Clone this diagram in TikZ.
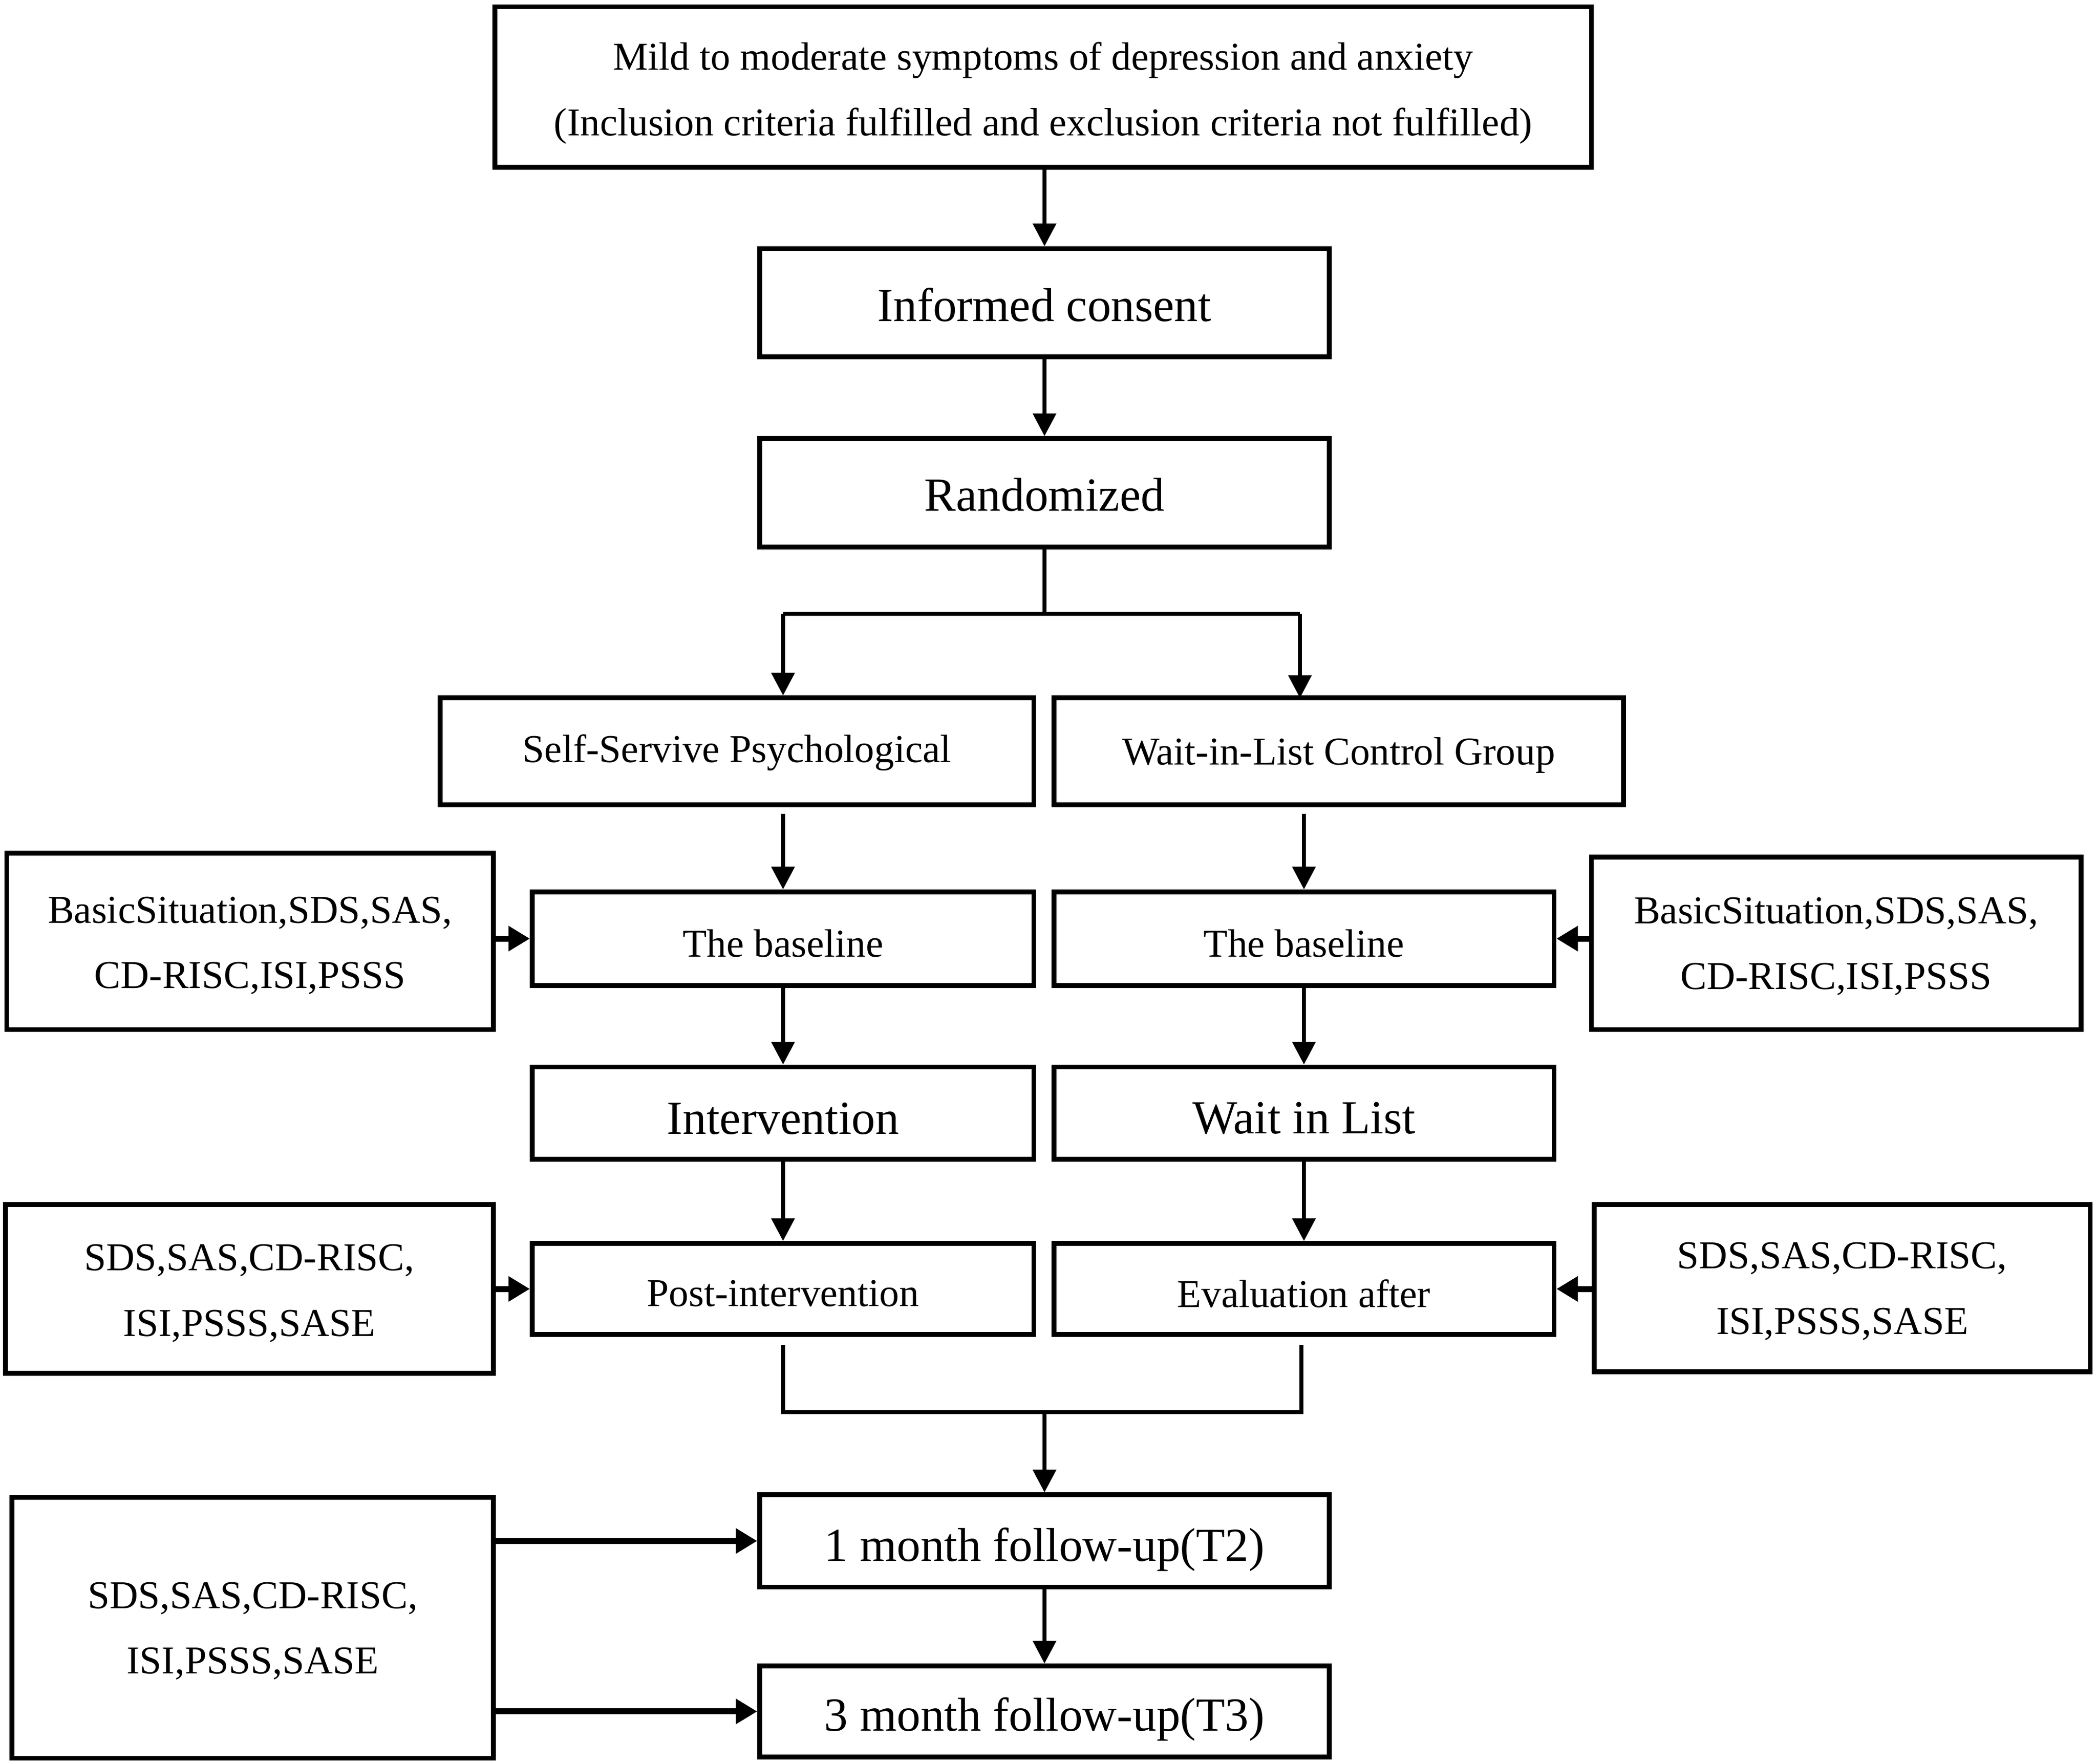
\documentclass[tikz,border=0pt]{standalone}
\usepackage{fontspec}
\setmainfont{Liberation Serif}
\usetikzlibrary{arrows.meta,calc}
\newcommand\dn[2]{\raisebox{-#1pt}[\height][\depth]{#2}}
\newcommand\two[3]{\raisebox{-#1pt}[\height][\depth]{\begin{tabular}{@{}c@{}}#2\\#3\end{tabular}}}
\begin{document}
\begin{tikzpicture}[x=1pt,y=-1pt,
  box/.style={draw,line width=3.6pt,rectangle,inner sep=0pt,align=center,
    font=\fontsize{29.5}{49}\selectfont},
  bigtxt/.style={font=\fontsize{35.5}{42}\selectfont},
  arr/.style={line width=3pt,-{Triangle[length=17pt,width=17pt]}},
  sidearr/.style={line width=4.5pt,-{Triangle[length=16pt,width=18pt]}},
  ln/.style={line width=3pt}]
\useasboundingbox (0,0) rectangle (1568,1319.3);

% main column
\node[box,minimum width=820pt,minimum height=120pt] (top) at (780,65)
  {\two{2}{Mild to moderate symptoms of depression and anxiety}{(Inclusion criteria fulfilled and exclusion criteria not fulfilled)}};
\node[box,bigtxt,minimum width=426pt,minimum height=81pt] (ic) at (781,226.5) {\dn{1.5}{Informed consent}};
\node[box,bigtxt,minimum width=426pt,minimum height=81pt] (rnd) at (781,368.5) {\dn{1.5}{Randomized}};

% groups
\node[box,minimum width=444pt,minimum height=80pt] (ssp) at (551,562) {\dn{1}{Self-Servive Psychological}};
\node[box,minimum width=426pt,minimum height=80pt] (wlc) at (1001,562) {\dn{3}{Wait-in-List Control Group}};

\node[box,minimum width=375pt,minimum height=70pt] (bl1) at (585.5,702) {\dn{3.5}{The baseline}};
\node[box,minimum width=374pt,minimum height=70pt] (bl2) at (975,702) {\dn{3.5}{The baseline}};

\node[box,minimum width=364pt,minimum height=132pt] (inf1) at (187,704)
  {\two{1}{BasicSituation,SDS,SAS,}{CD-RISC,ISI,PSSS}};
\node[box,minimum width=366pt,minimum height=129pt] (inf2) at (1373,705.5)
  {\two{0}{BasicSituation,SDS,SAS,}{CD-RISC,ISI,PSSS}};

\node[box,bigtxt,minimum width=375pt,minimum height=69pt] (int) at (585.5,832.5) {\dn{4}{Intervention}};
\node[box,bigtxt,minimum width=374pt,minimum height=69pt] (wil) at (975,832.5) {\dn{4}{Wait in List}};

\node[box,minimum width=375pt,minimum height=68pt] (post) at (585.5,964) {\dn{3.5}{Post-intervention}};
\node[box,minimum width=374pt,minimum height=68pt] (eva) at (975,964) {\dn{3.5}{Evaluation after}};

\node[box,minimum width=365pt,minimum height=126pt] (inf3) at (186.5,964)
  {\two{1}{SDS,SAS,CD-RISC,}{ISI,PSSS,SASE}};
\node[box,minimum width=371pt,minimum height=125pt] (inf4) at (1377.5,963.5)
  {\two{0}{SDS,SAS,CD-RISC,}{ISI,PSSS,SASE}};

\node[box,bigtxt,minimum width=426pt,minimum height=69pt] (fu1) at (781,1152.5) {\dn{6.5}{1 month follow-up(T2)}};
\node[box,bigtxt,minimum width=426pt,minimum height=68pt] (fu3) at (781,1280) {\dn{6}{3 month follow-up(T3)}};

\node[box,minimum width=360pt,minimum height=195pt] (inf5) at (189,1217.5)
  {\two{0}{SDS,SAS,CD-RISC,}{ISI,PSSS,SASE}};

% connectors
\draw[arr] (top.south -| ic) -- (ic.north);
\draw[arr] (ic) -- (rnd);
\coordinate (br) at (781,459);
\draw[ln] (rnd.south) -- (br);
\draw[ln] (br -| bl1) -- (972,459);
\draw[arr] (br -| bl1) -- (bl1 |- ssp.north);
\draw[arr] (972,459) -- (972,522);

\draw[arr] ($(ssp.south -| bl1)+(0,5)$) -- (bl1.north);
\draw[arr] ($(wlc.south -| bl2)+(0,5)$) -- (bl2.north);
\draw[sidearr] (inf1.east |- bl1) -- (bl1.west);
\draw[sidearr] (inf2.west |- bl2) -- (bl2.east);

\draw[arr] (bl1) -- (int);
\draw[arr] (bl2) -- (wil);
\draw[arr] (int) -- (post);
\draw[arr] (wil) -- (eva);
\draw[sidearr] (inf3.east |- post) -- (post.west);
\draw[sidearr] (inf4.west |- eva) -- (eva.east);

\coordinate (mg) at (781,1056);
\draw[ln] ($(post.south)+(0,6)$) -- (post |- mg) -- (973,1056) -- ($(eva.south -| 973,0)+(0,6)$);
\draw[arr] (mg) -- (fu1.north);
\draw[arr] (fu1) -- (fu3);
\draw[sidearr] (inf5.east |- fu1) -- (fu1.west);
\draw[sidearr] (inf5.east |- fu3) -- (fu3.west);
\end{tikzpicture}
\end{document}
